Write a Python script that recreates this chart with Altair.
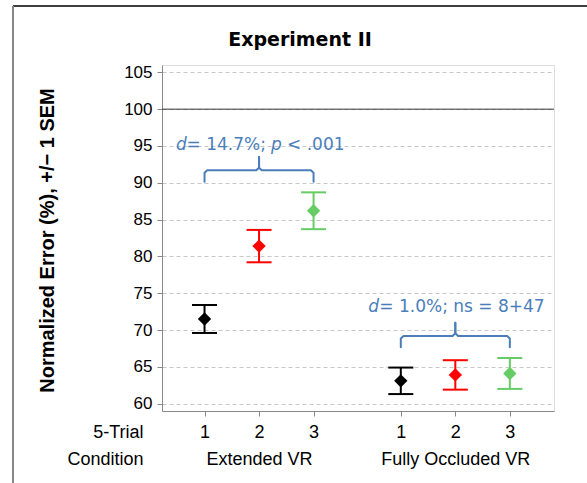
import altair as alt
import pandas as pd

# ---------------- data ----------------
group_of_point = ["Extended VR"] * 3 + ["Fully Occluded VR"] * 3
trial_condition = [1, 2, 3, 1, 2, 3]
x_positions = [1, 2, 3, 4.6, 5.6, 6.6]
mean_error = [71.5, 81.4, 86.2, 63.1, 63.9, 64.1]
sem_error = [1.9, 2.2, 2.5, 1.8, 2.0, 2.1]
tick_labels = ["1", "2", "3", "1", "2", "3"]
group_names = ["Extended VR", "Fully Occluded VR"]
group_label_positions = [2, 5.6]
y_ticks = [60, 65, 70, 75, 80, 85, 90, 95, 100, 105]
reference_level = [100]
condition_colors = ["#000000", "#ff0000", "#66cc66"]

bracket_start = [1, 4.6]
bracket_end = [3, 6.6]
bracket_level = [91.7, 69.2]
bracket_text_value = [95.1, 73.1]
# annotation segments: (bracket index, text, italic, horizontal offset px)
annotation_segments = [
    (0, "d", True, -83),
    (0, "= 14.7%;", False, -72.5),
    (0, "p", True, 12),
    (0, "< .001", False, 28),
    (1, "d", True, -87),
    (1, "= 1.0%; ns = 8+47", False, -76),
]

ANN = "#4a7ebb"
FONT = "DejaVu Sans"

df = pd.DataFrame({
    "group": group_of_point,
    "cond": trial_condition,
    "pos": x_positions,
    "val": mean_error,
    "sem": sem_error,
})

# label expression built from the tick label lists
expr = ""
for p, lab in zip(x_positions, tick_labels):
    second = ""
    for gp, gn in zip(group_label_positions, group_names):
        if abs(gp - p) < 1e-9:
            second = gn
    expr += f"abs(datum.value - {p}) < 0.01 ? ['{lab}', '{second}'] : "
expr += "''"

x_scale = alt.Scale(domain=[0.22, 7.41], nice=False, zero=False)
y_scale = alt.Scale(domain=[59, 106], nice=False, zero=False)

x_axis = alt.Axis(
    values=x_positions, labelExpr=expr, labelAngle=0,
    title=["5-Trial", "Condition"], titleX=-19, titleY=12,
    titleAlign="right", titleBaseline="top", titleAngle=0,
    titleFontWeight="normal", titleFontSize=18, titleLineHeight=27,
    labelLineHeight=27, labelFontSize=18, labelBaseline="top",
    labelPadding=7, labelOverlap=False, labelFlush=False,
    grid=False, tickSize=5,
)
y_axis = alt.Axis(
    values=y_ticks, title="Normalized Error (%), +/\u2212 1 SEM",
    titleX=-115, titleY=175, titleAngle=-90, titleAlign="center",
    titleBaseline="middle", titleFontSize=20, titleFontWeight="bold",
    labelFontSize=17, labelPadding=5, tickSize=5,
    grid=True, gridDash=[4, 3], gridColor="#c8c8c8",
)


def X(field="pos:Q"):
    return alt.X(field, scale=x_scale, axis=x_axis)


def Y(field="val:Q"):
    return alt.Y(field, scale=y_scale, axis=y_axis)


color = alt.Color("cond:O", scale=alt.Scale(domain=[1, 2, 3], range=condition_colors), legend=None)

base = alt.Chart(df).transform_calculate(
    lo="datum.val - datum.sem", hi="datum.val + datum.sem"
)

ref_rule = alt.Chart(pd.DataFrame({"val": reference_level})).mark_rule(
    color="#333333", strokeWidth=1
).encode(y=Y())

err_rule = base.mark_rule(strokeWidth=2).encode(x=X(), y=Y("lo:Q"), y2="hi:Q", color=color)
cap_hi = base.mark_tick(orient="horizontal", size=25, thickness=2, opacity=1).encode(
    x=X(), y=Y("hi:Q"), color=color)
cap_lo = base.mark_tick(orient="horizontal", size=25, thickness=2, opacity=1).encode(
    x=X(), y=Y("lo:Q"), color=color)
points = base.mark_point(shape="diamond", filled=True, size=178, opacity=1).encode(
    x=X(), y=Y(), color=color)

# curly braces built from bracket specs
DROP, STEM, CURL, INSET = 1.55, 1.8, 0.35, 0.05
rows = []
for i, (x0, x1, lv) in enumerate(zip(bracket_start, bracket_end, bracket_level)):
    xm = (x0 + x1) / 2
    for side, xe, sgn in (("L", x0, 1), ("R", x1, -1)):
        pts = [
            (xe, lv - DROP), (xe, lv - CURL), (xe + sgn * INSET, lv),
            (xm - sgn * INSET, lv), (xm, lv + CURL), (xm, lv + STEM),
        ]
        for k, (px, py) in enumerate(pts):
            rows.append({"pos": px, "val": py, "part": f"{i}{side}", "k": k})
braces = alt.Chart(pd.DataFrame(rows)).mark_line(
    color=ANN, strokeWidth=2, strokeJoin="round", strokeCap="round"
).encode(x=X(), y=Y(), detail="part:N", order="k:Q")

texts = []
for bi, txt, ital, dx in annotation_segments:
    cx = (bracket_start[bi] + bracket_end[bi]) / 2
    tdf = pd.DataFrame({"pos": [cx], "val": [bracket_text_value[bi]], "label": [txt]})
    texts.append(
        alt.Chart(tdf).mark_text(
            align="left", baseline="middle", dx=dx, font=FONT, fontSize=17,
            fontStyle="italic" if ital else "normal", color=ANN,
        ).encode(x=X(), y=Y(), text="label:N")
    )

dummy = pd.DataFrame({"k": [0]})
frame_top = alt.Chart(dummy).mark_rule(color="#000000", strokeWidth=1.5).encode(
    x=alt.value(-149), x2=alt.value(425), y=alt.value(-59))
frame_left = alt.Chart(dummy).mark_rule(color="#888888", strokeWidth=2).encode(
    x=alt.value(-149), y=alt.value(-59), y2=alt.value(420))

chart = alt.layer(
    ref_rule, err_rule, cap_hi, cap_lo, points, braces, *texts, frame_top, frame_left
).properties(
    width=392, height=346,
    padding={"left": 162, "top": 65, "right": 33, "bottom": 72},
    autosize="none",
    title=alt.TitleParams(
        text="Experiment II", font=FONT, fontSize=19, fontWeight="bold",
        anchor="middle", dx=-58, dy=49, color="#000000",
    ),
).configure_view(
    stroke="#000000", strokeWidth=1
).configure_axis(
    labelFont=FONT, titleFont=FONT, labelColor="#000000", titleColor="#000000",
    tickColor="#333333", domain=False,
).configure(background="white")

chart.save("out.html", embed_options={"renderer": "svg", "actions": False})
